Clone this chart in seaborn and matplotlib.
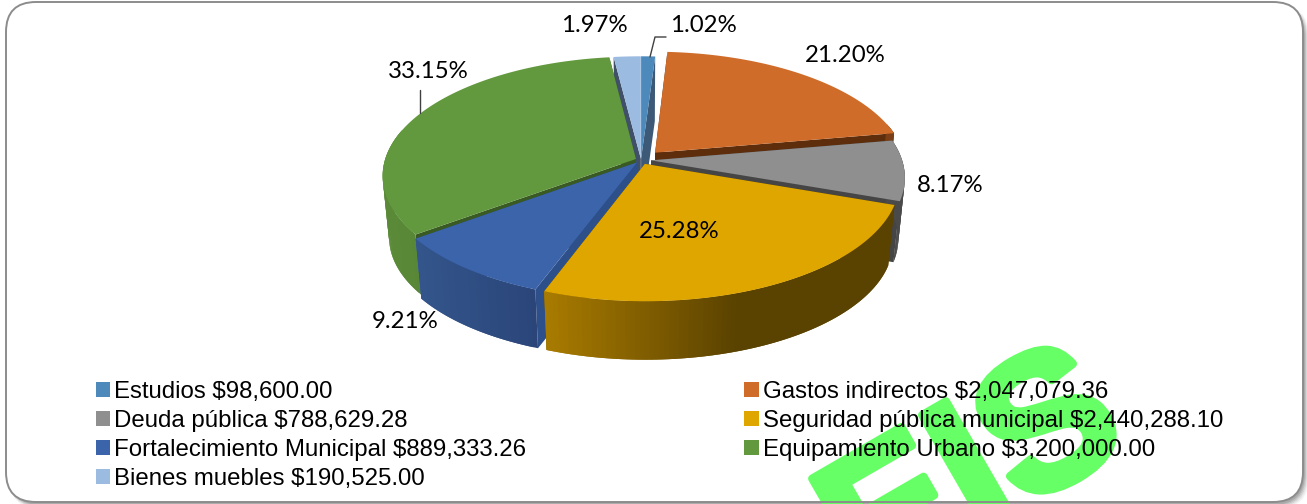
import numpy as np
import matplotlib
matplotlib.use('Agg')
import matplotlib.pyplot as plt
from matplotlib.patches import FancyBboxPatch, Patch, Polygon
import matplotlib.patheffects as pe
import seaborn as sns

### Data
names = ['Estudios', 'Gastos indirectos', 'Deuda pública', 'Seguridad pública municipal',
         'Fortalecimiento Municipal', 'Equipamiento Urbano', 'Bienes muebles']
amounts = [98600.00, 2047079.36, 788629.28, 2440288.10, 889333.26, 3200000.00, 190525.00]
colors = ['#4d8abb', '#d06c2a', '#8f8f8f', '#e0a600', '#3b64ab', '#62993e', '#9bbbe1']
cut_colors = ['#3c5a78', '#5e2e0c', '#454545', '#5a4200', '#2d4f8a', '#3a5a24', '#3f5068']
wall_left = ['#3f729c', '#8a4a1c', '#5c5c5c', '#a87a00', '#35598f', '#5a8a38', '#6f8cae']
wall_right = ['#3a6890', '#7a3f16', '#4a4a4a', '#5a4200', '#2a4478', '#4f7a30', '#5f7c9e']
explode = [0.012, 0.085, 0.04, 0.036, 0.026, 0.022, 0.012]
label_xy = [(703, 25), (845, 56), (950, 186), (679, 231), (405, 322), (428, 71), (594, 25)]

### Projection of the tilted pie into picture pixels
CX, CY = 641, 160
RX, RY = 251, 117
PERSP = 0.14
DEPTH = 62


def project(c, v, z=0.0):
    w = 1 + PERSP * v
    s = 1 - 0.025 * z
    return CX + RX * s * c / w, CY - RY * s * v / w + DEPTH * z


sns.set_theme(style='white')
plt.rcParams['font.family'] = ['Liberation Sans', 'DejaVu Sans']

fig, ax = plt.subplots(figsize=(13.07, 5.04), dpi=100)
ax.set_position([0, 0, 1, 1])
ax.set_xlim(0, 1307)
ax.set_ylim(504, 0)
ax.axis('off')

# frame with soft shadow
for grow, alpha in [(5, 0.06), (4, 0.08), (3, 0.12), (2, 0.16), (1, 0.2)]:
    ax.add_patch(FancyBboxPatch((9, 5), 1295 + grow, 499 + grow,
                                boxstyle='round,pad=0,rounding_size=32',
                                fc='#555555', ec='none', alpha=alpha, zorder=1))
frame = FancyBboxPatch((6, 2), 1297, 500, boxstyle='round,pad=0,rounding_size=30',
                       fc='white', ec='none', zorder=2)
ax.add_patch(frame)
ax.add_patch(FancyBboxPatch((6, 2), 1297, 500, boxstyle='round,pad=0,rounding_size=30',
                            fc='none', ec='#8c8c8c', lw=1.4, zorder=8))

# watermark sits under the legend text, cut by the frame
mark = ax.text(940, 556, 'DEIS', color='#66ff66', fontsize=137,
               fontweight='bold', rotation=30, ha='center', va='baseline',
               rotation_mode='anchor', zorder=3,
               path_effects=[pe.withStroke(linewidth=6, foreground='#66ff66')])
mark.set_clip_path(frame)

fractions = np.array(amounts) / np.sum(amounts)
edges = np.concatenate([[0], np.cumsum(fractions)]) * 2 * np.pi
mids = (edges[:-1] + edges[1:]) / 2

# back to front
order = np.argsort(-np.cos(mids))
for i in order:
    off_c = explode[i] * np.sin(mids[i])
    off_v = explode[i] * np.cos(mids[i])
    th = np.linspace(edges[i], edges[i + 1], max(int((edges[i + 1] - edges[i]) * 60), 3))
    arc_c = np.sin(th) + off_c
    arc_v = np.cos(th) + off_v

    # cut faces
    for j in (0, -1):
        face = [project(off_c, off_v, 0), project(arc_c[j], arc_v[j], 0),
                project(arc_c[j], arc_v[j], 1), project(off_c, off_v, 1)]
        ax.add_patch(Polygon(face, fc=cut_colors[i], ec='none', zorder=4))

    # outer wall, shaded strip by strip from left to right; strips overlap to hide seams
    left = np.array(matplotlib.colors.to_rgb(wall_left[i]))
    right = np.array(matplotlib.colors.to_rgb(wall_right[i]))
    for j in range(len(th) - 1):
        if np.cos((th[j] + th[j + 1]) / 2) > 0.25:
            continue
        k = min(j + 2, len(th) - 1)
        x0, y0 = project(arc_c[j], arc_v[j], 0)
        x1, y1 = project(arc_c[k], arc_v[k], 0)
        x2, y2 = project(arc_c[k], arc_v[k], 1)
        x3, y3 = project(arc_c[j], arc_v[j], 1)
        if i == 3:
            t = np.clip(((x0 + x1) / 2 - 545) / 190, 0, 1)
        else:
            t = np.clip(((x0 + x1) / 2 - 390) / 150, 0, 1)
        col = left + (right - left) * t
        ax.add_patch(Polygon([(x0, y0), (x1, y1), (x2, y2), (x3, y3)], fc=col, ec='none', zorder=4))

    # top surface
    top = [project(off_c, off_v, 0)] + [project(a, b, 0) for a, b in zip(arc_c, arc_v)]
    ax.add_patch(Polygon(top, fc=colors[i], ec='none', zorder=4))

# leader lines
ax.plot([650, 655, 666], [57, 37, 37], color='#404040', lw=1.0, zorder=5)
ax.plot([420, 420], [113, 90], color='#404040', lw=1.0, zorder=5)

for frac, (lx, ly) in zip(fractions, label_xy):
    ax.text(lx, ly, f'{frac * 100:.2f}%', family='Lato', fontsize=17.3, color='black',
            ha='center', va='center', zorder=6)

# matplotlib fills legend columns first, so hand the entries over in that order
col_order = [0, 2, 4, 6, 1, 3, 5]
handles = [Patch(fc=colors[i], ec='none', label=f'{names[i]} ${amounts[i]:,.2f}') for i in col_order]
leg = ax.legend(handles=handles, ncol=2, frameon=False, fontsize=17.25, loc='upper left',
                bbox_to_anchor=(96 / 1307, 1 - 381 / 504), borderaxespad=0, borderpad=0,
                handlelength=0.6, handleheight=0.6, handletextpad=0.17,
                columnspacing=9.1, labelspacing=0.29, labelcolor='black')
leg.set_zorder(7)

fig.savefig('out.png', dpi=100)
